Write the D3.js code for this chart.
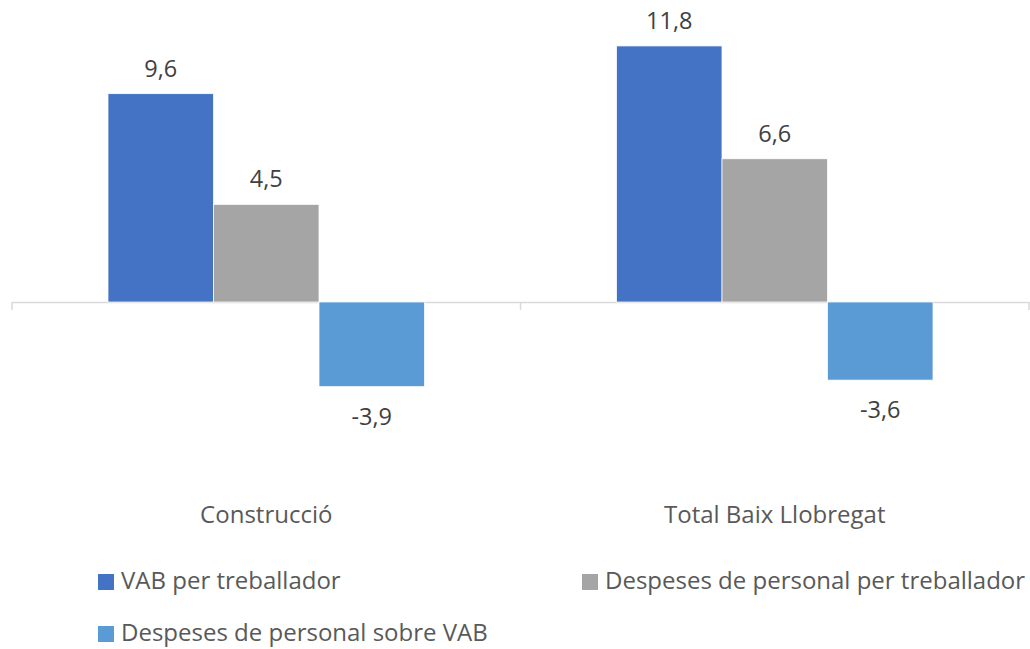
<!DOCTYPE html>
<html lang="ca">
<head>
<meta charset="UTF-8">
<script src="https://cdn.jsdelivr.net/npm/d3@7"></script>
<style>
  body { margin: 0; background: #fff; }
  text { font-family: "Open Sans", sans-serif; }
</style>
</head>
<body>
<svg width="1030" height="649"></svg>
<script>
const categories = ["Construcció", "Total Baix Llobregat"];
const series = ["VAB per treballador", "Despeses de personal per treballador", "Despeses de personal sobre VAB"];
const vab = [9.6, 11.8];
const despeses = [4.5, 6.6];
const sobreVab = [-3.9, -3.6];
const colors = ["#4472C4", "#A5A5A5", "#5B9BD5"];

const values = [vab, despeses, sobreVab];
const data = categories.map((c, i) => ({
  cat: c,
  bars: series.map((s, j) => ({ s, v: values[j][i] }))
}));

const svg = d3.select("svg");

const x0 = d3.scaleBand().domain(categories).range([12, 1029]);
const x1 = d3.scaleBand().domain(series).range([0, x0.bandwidth()]).paddingOuter(0.91);
const y = d3.scaleLinear().domain([-6, 13]).range([432.2, 19.9]);
const color = d3.scaleOrdinal().domain(series).range(colors);
const fmt = v => String(v).replace(".", ",");

// axis at zero
const axis = svg.append("g")
  .attr("transform", `translate(0,${y(0)})`)
  .call(d3.axisBottom(x0).tickSizeOuter(0).tickSize(0).tickFormat(""));
axis.select(".domain").attr("stroke", "#D9D9D9").attr("stroke-width", 1.5);
axis.selectAll(".tick").remove();
// separators between categories
const seps = [x0.range()[0], ...categories.map(c => x0(c) + x0.bandwidth())];
svg.append("g").selectAll("line").data(seps).join("line")
  .attr("x1", d => d).attr("x2", d => d)
  .attr("y1", y(0)).attr("y2", y(0) + 8)
  .attr("stroke", "#D9D9D9").attr("stroke-width", 1.5);

const groups = svg.append("g").selectAll("g").data(data).join("g")
  .attr("transform", d => `translate(${x0(d.cat)},0)`);

groups.selectAll("rect").data(d => d.bars).join("rect")
  .attr("x", d => x1(d.s))
  .attr("width", x1.bandwidth())
  .attr("y", d => y(Math.max(0, d.v)))
  .attr("height", d => Math.abs(y(d.v) - y(0)))
  .attr("fill", d => color(d.s))
  .attr("stroke", "#fff").attr("stroke-width", 0.75);

groups.selectAll("text.lbl").data(d => d.bars).join("text")
  .attr("class", "lbl")
  .attr("x", d => x1(d.s) + x1.bandwidth() / 2)
  .attr("y", d => d.v >= 0 ? y(d.v) - 17 : y(d.v) + 38)
  .attr("text-anchor", "middle")
  .attr("font-size", 23.5)
  .attr("fill", "#404040")
  .text(d => fmt(d.v));

// category labels
svg.append("g").selectAll("text").data(categories).join("text")
  .attr("x", d => x0(d) + x0.bandwidth() / 2)
  .attr("y", 523)
  .attr("text-anchor", "middle")
  .attr("font-size", 24)
  .attr("fill", "#595959")
  .text(d => d);

// legend
const legendPos = [[98, 589], [582, 589], [98, 641]];
const leg = svg.append("g").selectAll("g").data(series).join("g")
  .attr("transform", (d, i) => `translate(${legendPos[i][0]},${legendPos[i][1]})`);
leg.append("rect").attr("x", 0).attr("y", -15).attr("width", 16).attr("height", 16)
  .attr("fill", d => color(d));
leg.append("text").attr("x", 23).attr("y", 0)
  .attr("font-size", 24)
  .attr("fill", "#595959")
  .text(d => d);
</script>
</body>
</html>
